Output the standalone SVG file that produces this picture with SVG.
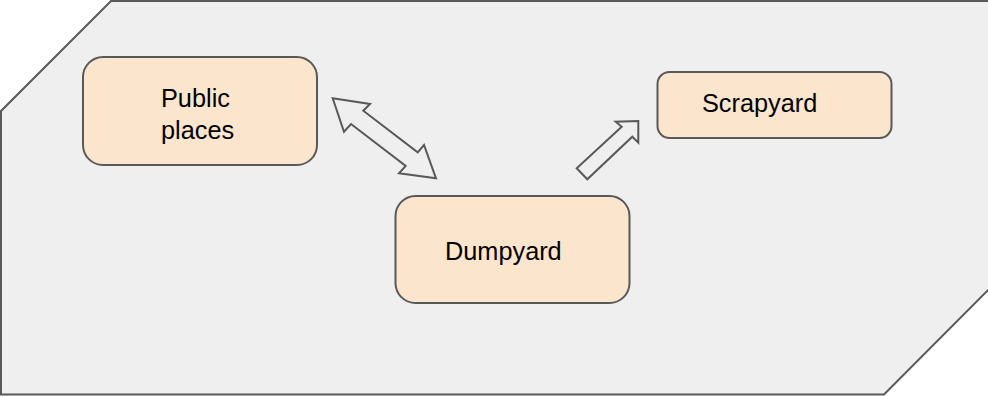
<svg xmlns="http://www.w3.org/2000/svg" width="988" height="397" viewBox="0 0 988 397">
<style>
.node{fill:#fce5cd;stroke:#595959;stroke-width:2}
.lbl{font-family:"Liberation Sans",Arial,sans-serif;font-size:25.3px;fill:#000}
.arr{fill:#efefef;stroke:#595959;stroke-width:2;stroke-linejoin:miter}
</style>
<rect width="988" height="397" fill="#ffffff"/>
<g id="background">
<path d="M111,1 L1000,1 L1000,278 L884,394.5 L1,394.5 L1,111 Z" fill="#efefef" stroke="#595959" stroke-width="2"/>
</g>
<g id="connectors">
<polygon class="arr" points="332.7,98.3 370,104 363.3,110.7 417.7,152.3 424,145 436,178.3 399,173.3 405.7,166 351,124 344,131.7"/>
<polygon class="arr" points="638.3,121 638.3,142.7 632.3,136.7 587.3,179.3 576.7,168.3 621.7,126.7 615.7,121.7"/>
</g>
<g id="public-places">
<rect class="node" x="83" y="57" width="234" height="108" rx="20"/>
<text class="lbl" x="161" y="106.7">Public</text>
<text class="lbl" x="161" y="139.4">places</text>
</g>
<g id="scrapyard">
<rect class="node" x="657.5" y="72" width="234" height="66" rx="12"/>
<text class="lbl" x="702" y="111.7">Scrapyard</text>
</g>
<g id="dumpyard">
<rect class="node" x="395.5" y="196" width="234" height="107" rx="20"/>
<text class="lbl" x="445" y="260">Dumpyard</text>
</g>
</svg>
